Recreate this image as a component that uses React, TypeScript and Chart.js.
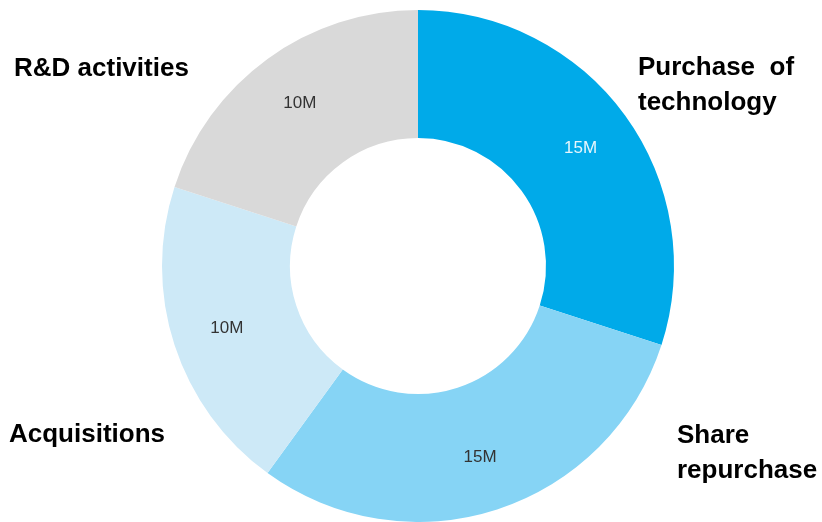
import React, { useEffect, useRef } from "react";
import { Chart, registerables } from "chart.js";

Chart.register(...registerables);

const categories = ["Purchase of technology", "Share repurchase", "Acquisitions", "R&D activities"];
const values = [15, 15, 10, 10];
const valueLabels = ["15M", "15M", "10M", "10M"];
const colors = ["#00AAE9", "#86D4F5", "#CDE9F7", "#D9D9D9"];
const valueColors = ["#E6F6FD", "#333333", "#333333", "#333333"];
const outerLines = [["Purchase  of", "technology"], ["Share", "repurchase"], ["Acquisitions"], ["R&D activities"]];

const labelPlugin = {
  id: "labelPlugin",
  afterDraw(chart: any) {
    const ctx = chart.ctx;
    const meta = chart.getDatasetMeta(0);
    ctx.save();
    ctx.textAlign = "center";
    ctx.textBaseline = "middle";
    ctx.font = "17px 'Liberation Sans', Arial, sans-serif";
    meta.data.forEach((arc: any, i: number) => {
      const mid = (arc.startAngle + arc.endAngle) / 2;
      const r = arc.innerRadius + 0.57 * (arc.outerRadius - arc.innerRadius);
      ctx.fillStyle = valueColors[i];
      ctx.fillText(valueLabels[i], arc.x + Math.cos(mid) * r, arc.y + Math.sin(mid) * r);
    });
    ctx.font = "bold 26px 'Liberation Sans', Arial, sans-serif";
    ctx.fillStyle = "#000000";
    ctx.textAlign = "left";
    ctx.textBaseline = "alphabetic";
    const pos = [
      [638, 75],
      [677, 443],
      [9, 442],
      [14, 76],
    ];
    outerLines.forEach((lines, i) => {
      lines.forEach((ln, j) => {
        ctx.fillText(ln, pos[i][0], pos[i][1] + j * 35);
      });
    });
    ctx.restore();
  },
};

export default function App() {
  const ref = useRef<HTMLCanvasElement>(null);
  useEffect(() => {
    const chart = new Chart(ref.current!, {
      type: "doughnut",
      data: {
        labels: categories,
        datasets: [
          {
            data: values,
            backgroundColor: colors,
            borderWidth: 0,
          },
        ],
      },
      options: {
        animation: false,
        responsive: false,
        cutout: "50%",
        layout: { padding: { left: 162, right: 148, top: 10, bottom: 0 } },
        plugins: { legend: { display: false }, tooltip: { enabled: false } },
      },
      plugins: [labelPlugin],
    });
    return () => chart.destroy();
  }, []);
  return (
    <div style={{ position: "fixed", left: 0, top: 0, width: 822, height: 522, background: "#fff" }}>
      <canvas ref={ref} width={822} height={522} style={{ width: 822, height: 522 }} />
    </div>
  );
}
